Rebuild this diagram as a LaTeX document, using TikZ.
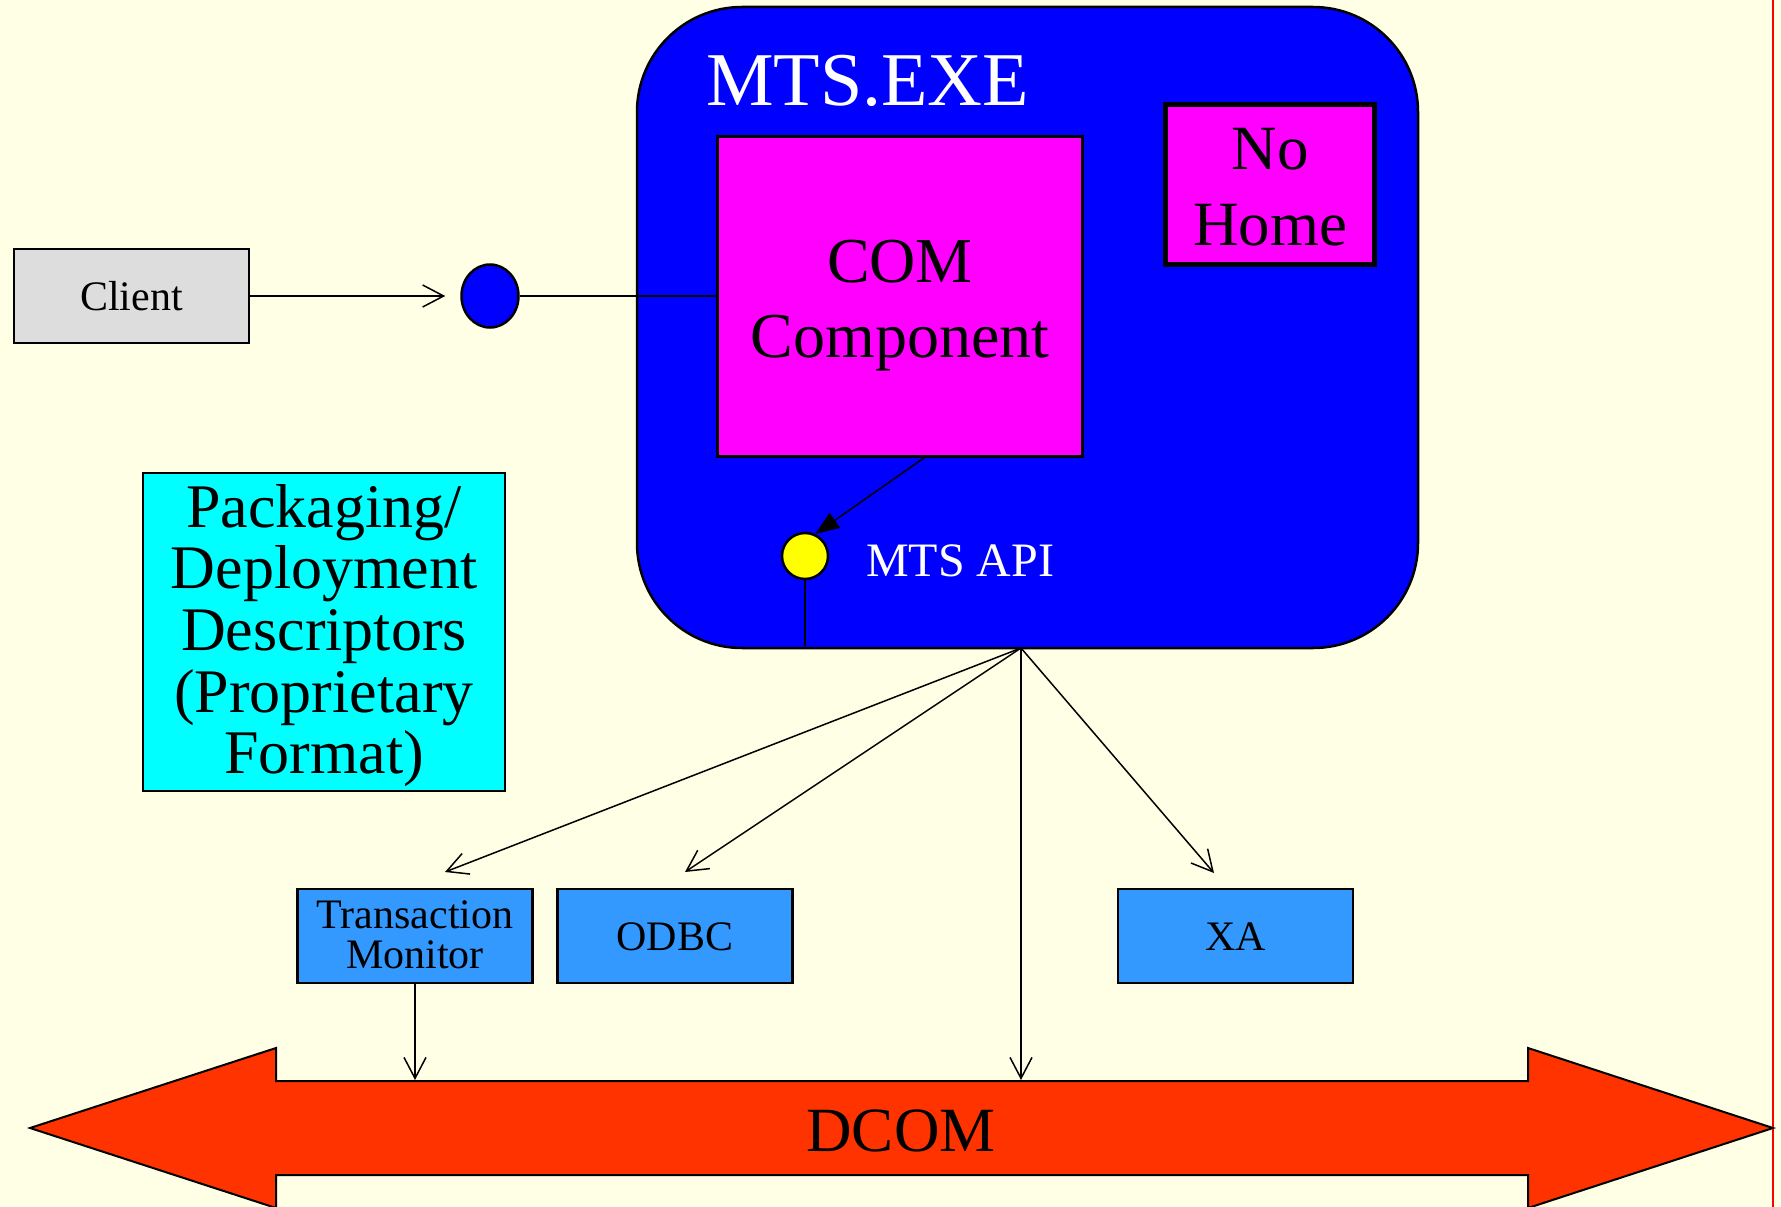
\documentclass[tikz,border=0pt]{standalone}
\usepackage{fontspec}
\setmainfont{Liberation Serif}
\usetikzlibrary{arrows.meta,shapes.geometric}
\definecolor{bg}{RGB}{255,255,230}
\definecolor{mtsblue}{RGB}{0,0,255}
\definecolor{mag}{RGB}{255,0,255}
\definecolor{cli}{RGB}{221,221,221}
\definecolor{cyanbox}{RGB}{0,255,255}
\definecolor{skyb}{RGB}{51,153,255}
\definecolor{dcomred}{RGB}{255,51,0}
\definecolor{apiyel}{RGB}{255,255,0}
\newcommand\setfs[1]{\fontsize{#1}{#1}\selectfont}
\begin{document}
\begin{tikzpicture}[x=1pt,y=-1pt,
  box/.style={draw=black, line width=2.5pt, inner sep=0pt, rectangle},
  conn/.style={draw=black, line width=1.5pt},
  barb/.style={conn, -{Straight Barb[length=21pt,width=22pt]}},
  filltip/.style={conn, -{Triangle[length=24pt,width=18pt]}},
  txt/.style={anchor=base, inner sep=0pt},
]
\fill[bg] (0,0) rectangle (1781,1207);
\useasboundingbox (0,0) rectangle (1781,1207);
\draw[red, line width=2pt] (1773,0) -- (1773,1207);

% MTS.EXE container
\node[draw=black, line width=2.5pt, fill=mtsblue, rounded corners=105pt,
      minimum width=781pt, minimum height=641pt, inner sep=0pt] (mts) at (1027.5,327.5) {};
\node[txt, anchor=base west, text=white, font=\setfs{76}] (mtslbl) at (706,106) {MTS.EXE};

% COM component
\node[box, line width=3pt, fill=mag, minimum width=365pt, minimum height=320pt] (com) at (899.5,296) {};
\node[txt, font=\setfs{64}] (coml1) at (900,282) {COM};
\node[txt, font=\setfs{64}] (coml2) at (900,357) {Component};

% No Home
\node[box, line width=5pt, fill=mag, minimum width=209pt, minimum height=160pt] (nohome) at (1270,184.5) {};
\node[txt, font=\setfs{63}] (nh1) at (1270,169) {No};
\node[txt, font=\setfs{63}] (nh2) at (1270,245) {Home};

% MTS API
\node[draw=black, line width=2.5pt, fill=apiyel, circle, minimum size=46pt, inner sep=0pt] (api) at (805,556) {};
\node[txt, anchor=base west, text=white, font=\setfs{48}] (apilbl) at (866,576) {MTS API};

% Client and port
\node[box, fill=cli, minimum width=235pt, minimum height=94pt, font=\setfs{42},
      text height=28pt, text depth=0pt] (client) at (131.5,296) {Client};
\node[draw=black, line width=2.5pt, fill=mtsblue, ellipse, minimum width=57pt, minimum height=63pt, inner sep=0pt] (port) at (490,296) {};

% Packaging
\node[box, fill=cyanbox, minimum width=362pt, minimum height=318pt] (pack) at (324,632) {};
\node[txt, font=\setfs{62}] (pk1) at (324,527) {Packaging/};
\node[txt, font=\setfs{62}] (pk2) at (324,588) {Deployment};
\node[txt, font=\setfs{62}] (pk3) at (324,650) {Descriptors};
\node[txt, font=\setfs{62}] (pk4) at (324,712) {(Proprietary};
\node[txt, font=\setfs{62}] (pk5) at (324,773) {Format)};

% Lower boxes
\node[box, fill=skyb, minimum width=235pt, minimum height=94pt] (tm) at (415,936) {};
\node[txt, font=\setfs{42}] (tm1) at (415,928) {Transaction};
\node[txt, font=\setfs{42}] (tm2) at (415,968) {Monitor};
\node[box, fill=skyb, minimum width=235pt, minimum height=94pt, font=\setfs{42},
      text height=28pt, text depth=0pt] (odbc) at (675,936) {ODBC};
\node[box, fill=skyb, minimum width=235pt, minimum height=94pt, font=\setfs{42},
      text height=28pt, text depth=0pt] (xa) at (1235.5,936) {XA};

% DCOM double arrow
\draw[fill=dcomred, line width=2pt, line join=miter]
  (30,1128) -- (276,1048) -- (276,1081) -- (1528,1081) -- (1528,1048) -- (1773,1128)
  -- (1528,1208) -- (1528,1175) -- (276,1175) -- (276,1208) -- cycle;
\node[txt, font=\setfs{63}] (dcom) at (901,1151) {DCOM};

% coordinates
\coordinate (hub) at (1021,648);
\coordinate (tmtip) at (445,872);
\coordinate (odbctip) at (685,872);
\coordinate (xatip) at (1214,873);
\coordinate (dcomtip) at (1021,1080);
\coordinate (tmdcom) at (415,1080);
\coordinate (apibot) at (805,646);

% connectors
\draw[barb, shorten >=15pt] (client) -- (port);
\draw[conn] (port) -- (com);
\draw[filltip] ([xshift=25pt]com.south) -- (api.65);
\draw[conn] (api.south) -- (apibot);
\draw[barb] (hub) -- (tmtip);
\draw[barb] (hub) -- (odbctip);
\draw[barb] (hub) -- (xatip);
\draw[barb] (hub) -- (dcomtip);
\draw[barb] (tm.south) -- (tmdcom);
\end{tikzpicture}
\end{document}
